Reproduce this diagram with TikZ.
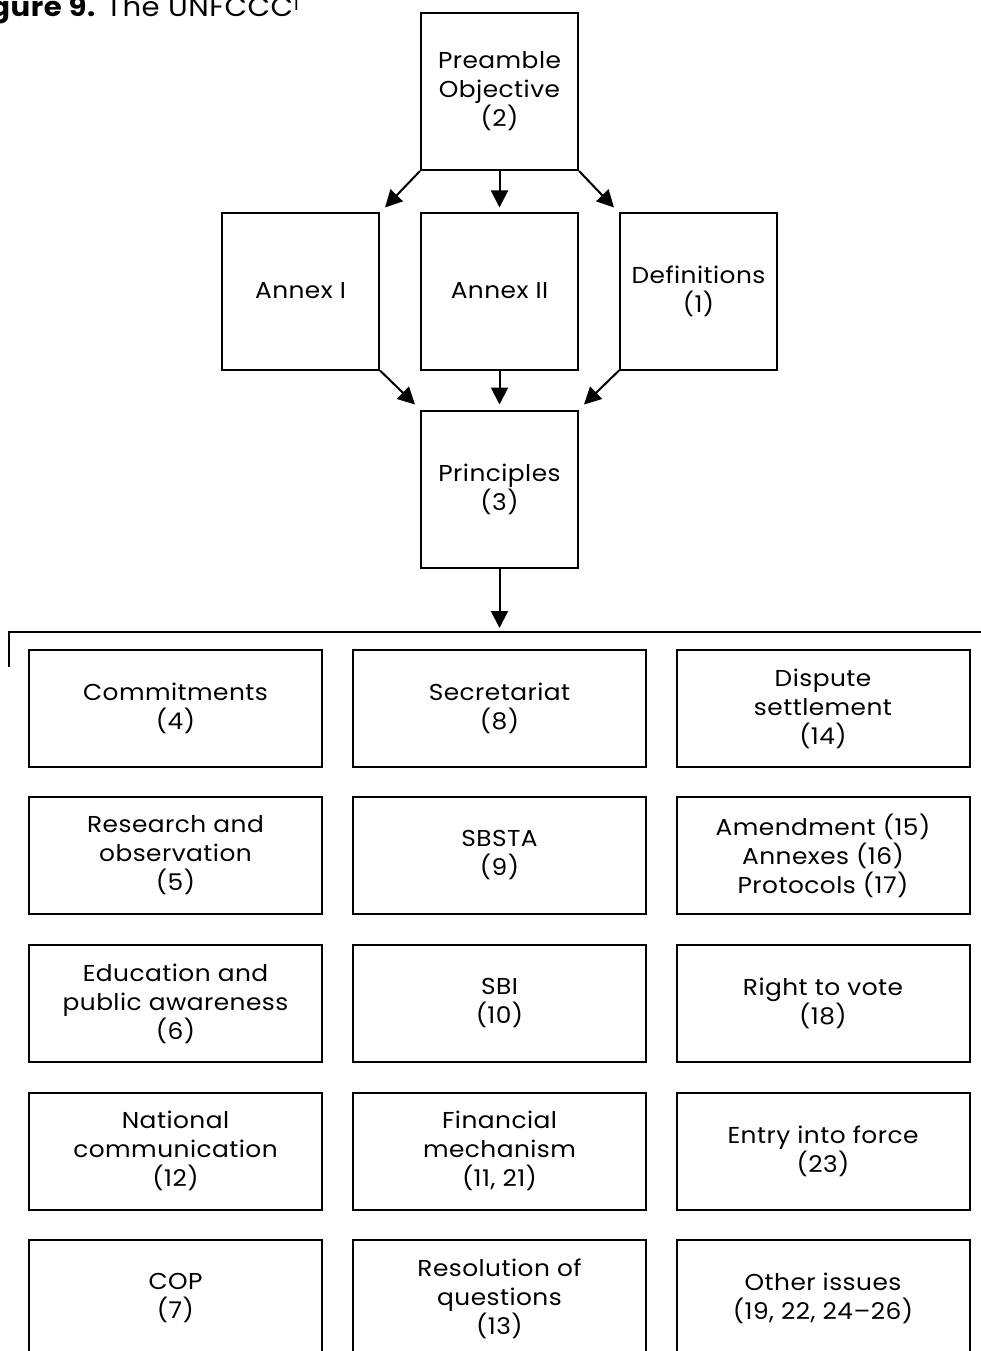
\documentclass[tikz,border=0pt]{standalone}
\usepackage{fontspec}
\setmainfont{Poppins}[FakeStretch=1.08, LetterSpace=2]
\usetikzlibrary{arrows.meta}
\tikzset{
  box/.style={draw=black, line width=2pt, inner sep=0pt, align=center,
    font=\fontsize{23}{29}\selectfont},
  sq/.style={box, minimum width=157pt, minimum height=157pt},
  wide/.style={box, minimum width=293pt, minimum height=117pt},
  arr/.style={line width=2pt, -{Triangle[length=17pt,width=17pt]}},
  rule/.style={line width=1.5pt},
  ttl/.style={inner sep=0pt, font=\fontsize{27}{30}\selectfont}
}
\begin{document}
\begin{tikzpicture}[x=1pt,y=-1pt]
\useasboundingbox (0,0) rectangle (981,1351);
% title
\node[ttl, anchor=base east] (fig) at (96,17) {\textbf{Figure 9.}};
\node[ttl, anchor=base west] (ttlB) at (106,17) {The UNFCCC\raisebox{6pt}{\fontsize{17}{17}\selectfont 1}};
% top part
\node[sq] (pre) at (499.5,91.5) {Preamble\\Objective\\(2)};
\node[sq] (a1) at (300.5,291) {Annex I};
\node[sq] (a2) at (499.5,291) {Annex II};
\node[sq] (def) at (698.5,291) {Definitions\\(1)};
\node[sq] (pri) at (499.5,489) {Principles\\(3)};
\draw[arr] (pre.south west) -- ([shift={(5,-4)}]a1.north east);
\draw[arr, shorten >=4pt] (pre.south) -- (a2.north);
\draw[arr] (pre.south east) -- ([shift={(-5,-4)}]def.north west);
\draw[arr] (a1.south east) -- ([shift={(-5,-5)}]pri.north west);
\draw[arr, shorten >=5pt] (a2.south) -- (pri.north);
\draw[arr] (def.south west) -- ([shift={(5,-5)}]pri.north east);
% bracket line
\coordinate (hlL) at (9,632);
\coordinate (hlM) at (499.5,632);
\coordinate (hlR) at (981,632);
\coordinate (hlT) at (9,667);
\draw[arr, shorten >=4pt] (pri.south) -- (hlM);
\draw[rule] (hlT) -- (hlL) -- (hlR);
% grid
\node[wide] (c1) at (175.5,708.5) {Commitments\\(4)};
\node[wide] (c2) at (499.5,708.5) {Secretariat\\(8)};
\node[wide] (c3) at (823,708.5) {Dispute\\settlement\\(14)};
\node[wide] (r1) at (175.5,855.5) {Research and\\observation\\(5)};
\node[wide] (r2) at (499.5,855.5) {SBSTA\\(9)};
\node[wide] (r3) at (823,855.5) {Amendment (15)\\Annexes (16)\\Protocols (17)};
\node[wide] (e1) at (175.5,1003.5) {Education and\\public awareness\\(6)};
\node[wide] (e2) at (499.5,1003.5) {SBI\\(10)};
\node[wide] (e3) at (823,1003.5) {Right to vote\\(18)};
\node[wide] (n1) at (175.5,1151) {National\\communication\\(12)};
\node[wide] (n2) at (499.5,1151) {Financial\\mechanism\\(11, 21)};
\node[wide] (n3) at (823,1151) {Entry into force\\(23)};
\node[wide] (o1) at (175.5,1298.5) {COP\\(7)};
\node[wide] (o2) at (499.5,1298.5) {Resolution of\\questions\\(13)};
\node[wide] (o3) at (823,1298.5) {Other issues\\(19, 22, 24--26)};
\end{tikzpicture}
\end{document}
